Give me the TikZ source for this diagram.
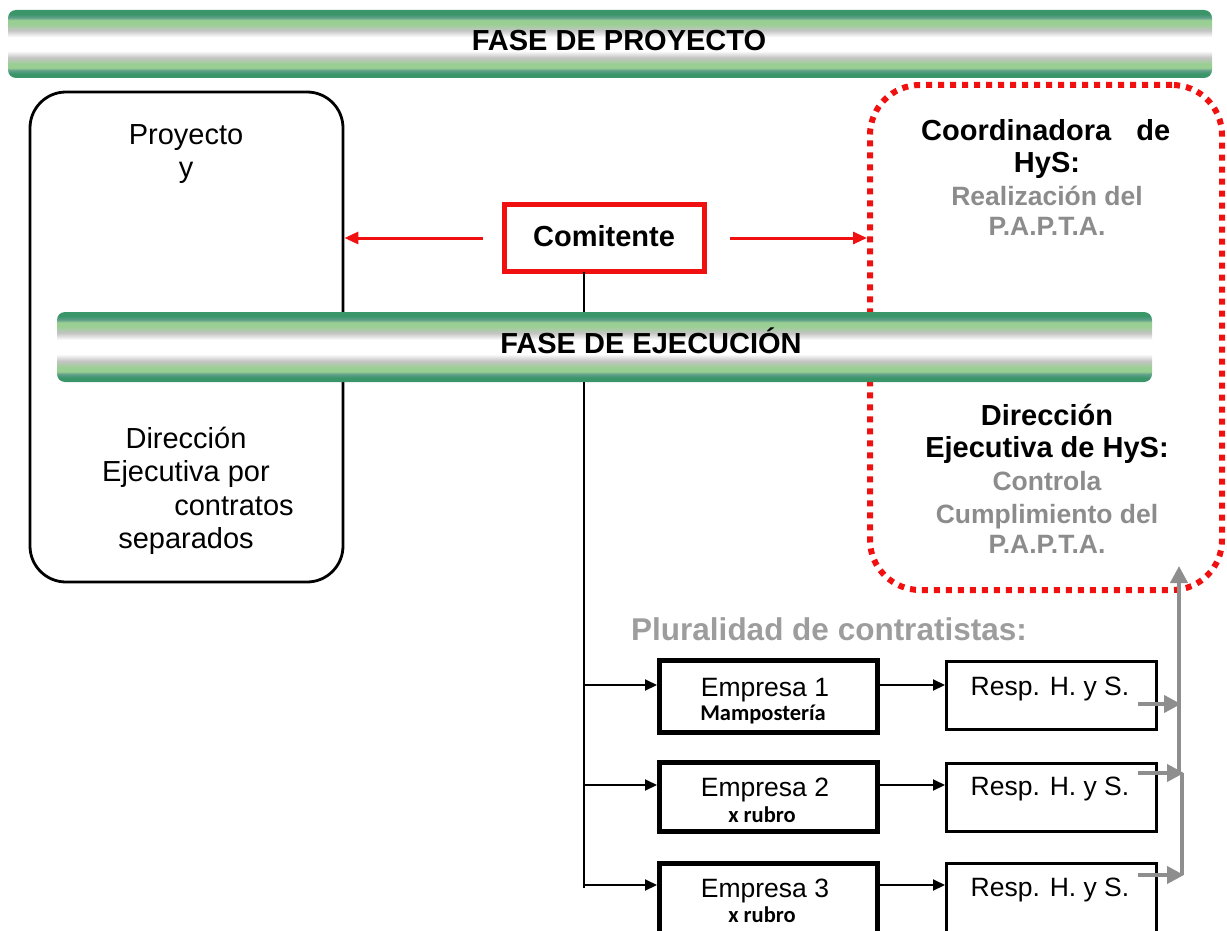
\documentclass[tikz,border=0pt]{standalone}
\usepackage{fontspec}
\setmainfont{Liberation Sans}
\newfontfamily\carl{Carlito}
\usetikzlibrary{arrows.meta,calc}
\definecolor{dg}{HTML}{3A9668}
\definecolor{mg}{HTML}{5E9E8A}
\definecolor{lg}{HTML}{9ACF94}
\definecolor{gy}{HTML}{C4C4C4}
\definecolor{txtgray}{HTML}{8C8C8C}
\definecolor{arrgray}{HTML}{8E8E8E}
\definecolor{pred}{HTML}{F01010}
\pgfdeclareverticalshading{barshade}{100bp}{color(0bp)=(dg); color(25bp)=(dg); color(28bp)=(dg); color(30.5bp)=(mg); color(32.5bp)=(lg); color(35.5bp)=(lg); color(40bp)=(gy); color(45bp)=(white); color(55bp)=(white); color(60bp)=(gy); color(64.5bp)=(lg); color(67.5bp)=(lg); color(69.5bp)=(mg); color(72bp)=(dg); color(100bp)=(dg)}
\begin{document}
\begin{tikzpicture}[x=1pt,y=-1pt,
  bar/.style={shading=barshade, rounded corners=8pt, inner sep=0pt, draw=none},
  bartext/.style={anchor=base, inner sep=0pt, font=\fontsize{29}{31}\selectfont\bfseries},
  rtext/.style={anchor=base, inner sep=0pt, font=\fontsize{29}{31}\selectfont},
  btext/.style={anchor=base, inner sep=0pt, font=\fontsize{29}{31}\selectfont\bfseries},
  gtext/.style={anchor=base, inner sep=0pt, text=txtgray, font=\fontsize{26.5}{28}\selectfont\bfseries},
  etext/.style={anchor=base, inner sep=0pt, font=\fontsize{26.5}{28}\selectfont},
  stext/.style={anchor=base, inner sep=0pt, font=\fontsize{22.5}{24}\selectfont\carl\bfseries},
  box/.style={draw, inner sep=0pt, anchor=north west},
  ebox/.style={box, line width=4.5pt},
  rbox/.style={box, line width=2.5pt},
  blk/.style={line width=2pt, -{Triangle[length=12pt,width=11pt]}},
  redarr/.style={pred, line width=3pt, -{Triangle[length=14pt,width=12pt]}},
  grarr/.style={arrgray, line width=4pt, -{Triangle[length=17pt,width=17pt]}}
]
\useasboundingbox (0,0) rectangle (1227,931);
% left rounded box
\node[draw, line width=2.8pt, rounded corners=36pt, minimum width=313pt, minimum height=490pt, inner sep=0pt] (lbox) at (186.5,337) {};
% red dotted box
\node[draw=pred, line width=6pt, dash pattern=on 6pt off 6pt, rounded corners=50pt, minimum width=352pt, minimum height=505pt, inner sep=0pt] (hys) at (1046,337.5) {};
% Comitente
\node[draw=pred, line width=5pt, minimum width=200pt, minimum height=67pt, inner sep=0pt] (com) at (604.5,238) {};
\node[btext] (comt) at (604,247) {Comitente};
% main vertical line
\coordinate (vtop) at (584,272);
\coordinate (vbot) at (584,888);
\draw[line width=2.5pt] (vtop) -- (vbot);
% bars
\node[bar, minimum width=1204pt, minimum height=68pt] (bar1) at (610,44) {};
\node[bartext] (bar1t) at (619,50.5) {FASE DE PROYECTO};
\node[bar, minimum width=1095pt, minimum height=70pt] (bar2) at (604.5,347) {};
\node[bartext] (bar2t) at (651,353.5) {FASE DE EJECUCIÓN};
% red arrows
\draw[redarr] ([xshift=-19pt]com.west) -- (lbox.east |- com.west);
\draw[redarr] ([xshift=23pt]com.east) -- (hys.west |- com.east);
% left box text
\node[rtext] (l1) at (186,145) {Proyecto};
\node[rtext] (l2) at (186,178) {y};
\node[rtext] (l3) at (186,448) {Dirección};
\node[rtext] (l4) at (186,481) {Ejecutiva por};
\node[rtext] (l5) at (234,515) {contratos};
\node[rtext] (l6) at (186,548) {separados};
% right box text
\node[btext, anchor=base west] (r1) at (921,141) {Coordinadora\hspace{25pt}de};
\node[btext] (r2) at (1047,173) {HyS:};
\node[gtext] (r3) at (1047,205) {Realización del};
\node[gtext] (r4) at (1047,236) {P.A.P.T.A.};
\node[btext] (r5) at (1047,425) {Dirección};
\node[btext] (r6) at (1047,457) {Ejecutiva de HyS:};
\node[gtext] (r7) at (1047,490) {Controla};
\node[gtext] (r8) at (1047,523) {Cumplimiento del};
\node[gtext] (r9) at (1047,553) {P.A.P.T.A.};
% pluralidad
\node[anchor=base, inner sep=0pt, text=txtgray!85, font=\fontsize{31.5}{33}\selectfont\bfseries] (plu) at (829,640) {Pluralidad de contratistas:};
% empresa boxes
\node[ebox, minimum width=218pt, minimum height=72pt] (e1) at (657,658) {};
\node[ebox, minimum width=218pt, minimum height=69pt] (e2) at (657,760) {};
\node[ebox, minimum width=218pt, minimum height=74pt] (e3) at (657,861) {};
\node[etext] (e1t) at (765,696) {Empresa 1};
\node[stext] (e1s) at (763,720) {Mampostería};
\node[etext] (e2t) at (765,796) {Empresa 2};
\node[stext] (e2s) at (762,822) {x rubro};
\node[etext] (e3t) at (765,897) {Empresa 3};
\node[stext] (e3s) at (762,922) {x rubro};
% resp boxes
\node[rbox, minimum width=210pt, minimum height=68pt] (s1) at (945,660) {};
\node[rbox, minimum width=210pt, minimum height=68pt] (s2) at (945,762) {};
\node[rbox, minimum width=210pt, minimum height=72pt] (s3) at (945,862) {};
\node[etext] (s1t) at (1050,695) {Resp. H. y S.};
\node[etext] (s2t) at (1050,795) {Resp. H. y S.};
\node[etext] (s3t) at (1050,896) {Resp. H. y S.};
% branch arrows
\coordinate (b1) at (584,685);
\coordinate (b2) at (584,785);
\coordinate (b3) at (584,885);
\draw[blk] (b1) -- (b1 -| e1.west);
\draw[blk] (b2) -- (b2 -| e2.west);
\draw[blk] (b3) -- (b3 -| e3.west);
\draw[blk] (e1.east |- b1) -- (s1.west |- b1);
\draw[blk] (e2.east |- b2) -- (s2.west |- b2);
\draw[blk] (e3.east |- b3) -- (s3.west |- b3);
% gray arrows
\coordinate (g1) at (1138,704);
\coordinate (g2) at (1138,773);
\coordinate (g3) at (1138,875);
\coordinate (gv1) at (1181,704);
\coordinate (gv2) at (1184,773);
\coordinate (gv3) at (1184,875);
\coordinate (gtop) at (1179,566);
\draw[grarr] (g1) -- (gv1);
\draw[grarr] (g2) -- (gv2);
\draw[grarr] (g3) -- (gv3);
\draw[arrgray, line width=4pt] (1182,875) -- (1182,773);
\draw[grarr] (1179,773) -- (gtop);
\end{tikzpicture}
\end{document}
